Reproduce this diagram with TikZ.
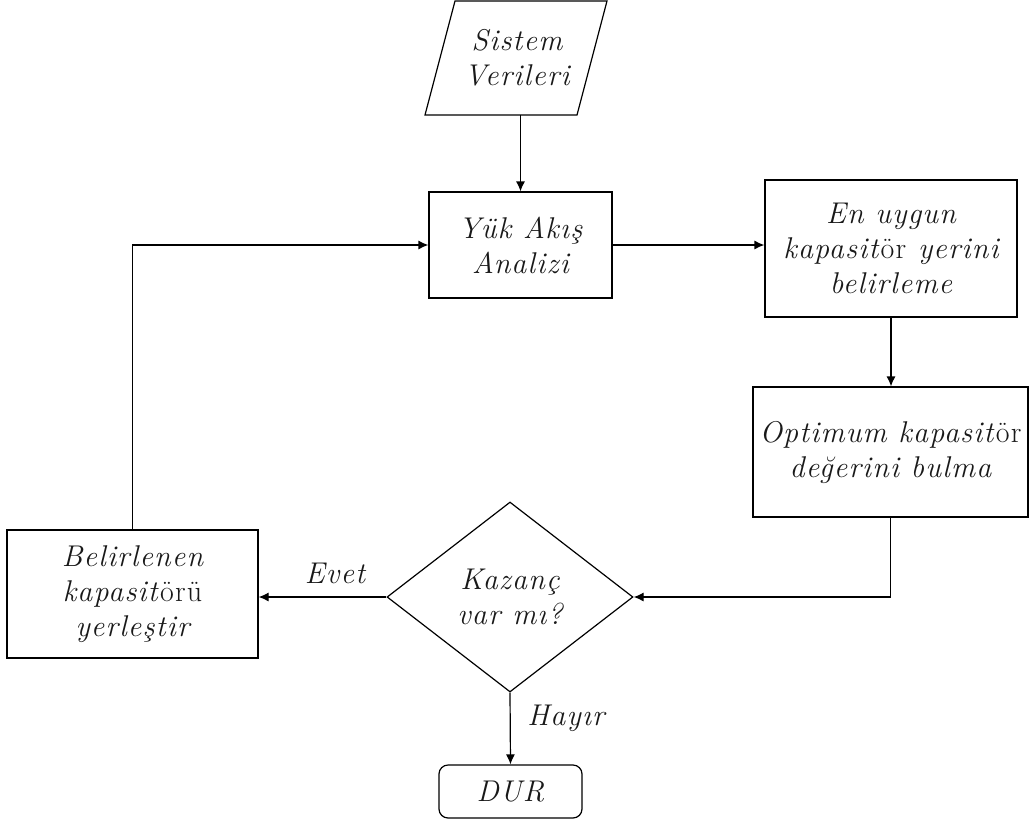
\documentclass[tikz,border=0pt]{standalone}
\usepackage{fontspec}
\setmainfont{Latin Modern Roman}[LetterSpace=4]
\usetikzlibrary{shapes.geometric,arrows.meta}
\begin{document}
\begin{tikzpicture}[x=1pt,y=-1pt,
  txt/.style={font=\fontsize{30}{35}\selectfont\itshape, align=center, text=black!90},
  box/.style={txt, draw, line width=1.2pt, inner sep=0pt},
  arr/.style={line width=1.2pt, -{Latex[length=10pt,width=9pt]}},
  ln/.style={line width=1.2pt}]
\useasboundingbox (0,0) rectangle (1031,825);
\node[txt, minimum width=150, minimum height=114, inner sep=0pt] (sv) at (517,58) {Sistem\\Verileri};
\draw[ln] (sv.center) ++(-92,57) -- ++(152,0) -- ++(30,-114) -- ++(-152,0) -- cycle;
\node[box, minimum width=183, minimum height=106] (yuk) at (520.5,245) {Yük Akış\\Analizi};
\node[box, minimum width=252, minimum height=137] (en) at (891,248.5) {En uygun\\kapasit\textup{ör} yerini\\belirleme};
\node[box, minimum width=275, minimum height=130] (opt) at (890.5,452) {Optimum kapasit\textup{ör}\\değerini bulma};
\node[box, shape=diamond, aspect=1.29, minimum width=246, minimum height=190] (dia) at (510,597) {Kazanç\\var mı?};
\node[box, minimum width=251, minimum height=128] (bel) at (132.5,594) {Belirlenen\\kapasit\textup{örü}\\yerleştir};
\node[box, rounded corners=9pt, minimum width=143, minimum height=53] (dur) at (510.5,791.5) {DUR};
\node[txt] (evet) at (335,573) {Evet};
\node[txt] (hayir) at (566,718) {Hayır};
\draw[arr] (yuk.north |- sv.south) -- (yuk.north);
\draw[arr] (yuk.east) -- (yuk.east -| en.west);
\draw[arr] (en.south) -- (en.south |- opt.north);
\draw[arr] (opt.south) |- (dia.east);
\draw[arr] (dia.west) -- (dia.west -| bel.east);
\draw[arr] (bel.north) |- (yuk.west);
\draw[arr] (dia.south) -- (dur.north);
\end{tikzpicture}
\end{document}
